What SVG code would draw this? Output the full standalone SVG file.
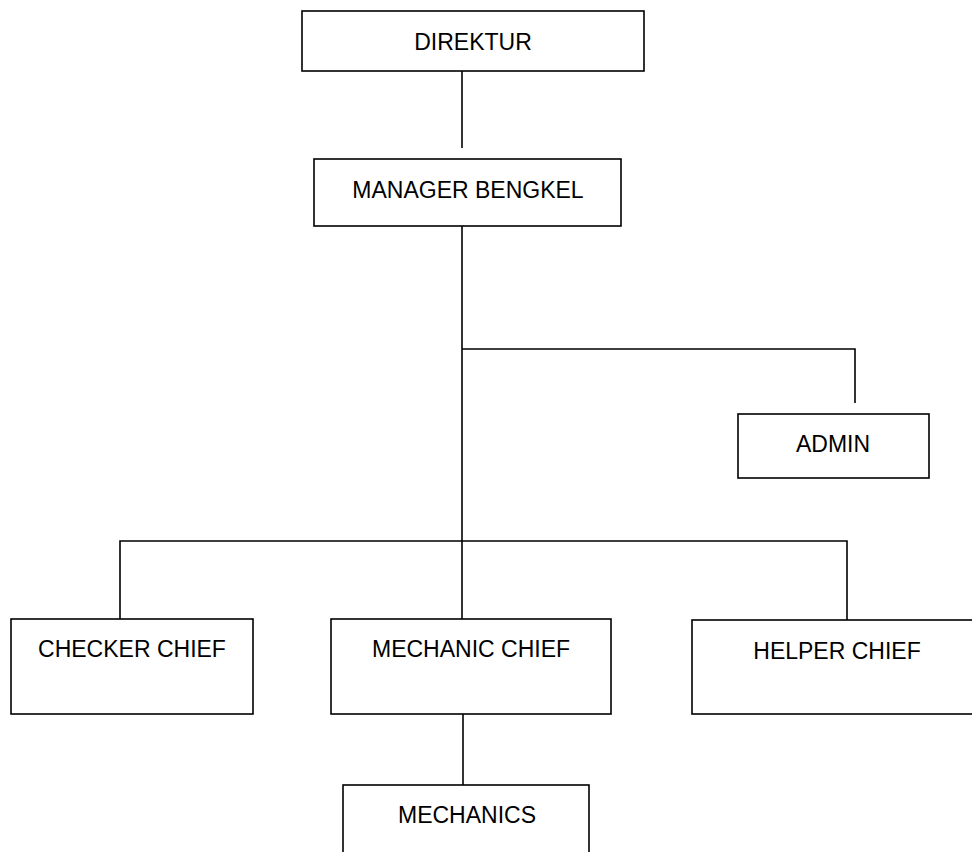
<svg xmlns="http://www.w3.org/2000/svg" width="972" height="852" viewBox="0 0 972 852">
<style>
.box{fill:#fff;stroke:#000;stroke-width:1.6}
.lbl{font-family:"Liberation Sans",Arial,sans-serif;font-size:23px;fill:#000;text-anchor:middle}
.con{fill:none;stroke:#000;stroke-width:1.6}
</style>
<rect width="972" height="852" fill="#fff"/>
<g id="connectors">
<path class="con" d="M462,71 V148"/>
<path class="con" d="M462,226 V619"/>
<path class="con" d="M462,349 H855 V403"/>
<path class="con" d="M120,619 V541 H847 V620"/>
<path class="con" d="M463,714 V785"/>
</g>
<g id="direktur"><rect class="box" x="302" y="11" width="342" height="60"/><text class="lbl" x="473" y="50">DIREKTUR</text></g>
<g id="manager"><rect class="box" x="314" y="159" width="307" height="67"/><text class="lbl" x="468" y="198">MANAGER BENGKEL</text></g>
<g id="admin"><rect class="box" x="738" y="414" width="191" height="64"/><text class="lbl" x="833" y="452">ADMIN</text></g>
<g id="checker"><rect class="box" x="11" y="619" width="242" height="95"/><text class="lbl" x="132" y="657">CHECKER CHIEF</text></g>
<g id="mechanic-chief"><rect class="box" x="331" y="619" width="280" height="95"/><text class="lbl" x="471" y="657">MECHANIC CHIEF</text></g>
<g id="helper"><rect class="box" x="692" y="620" width="290" height="94"/><text class="lbl" x="837" y="659">HELPER CHIEF</text></g>
<g id="mechanics"><rect class="box" x="343" y="785" width="246" height="80"/><text class="lbl" x="467" y="823">MECHANICS</text></g>
</svg>
